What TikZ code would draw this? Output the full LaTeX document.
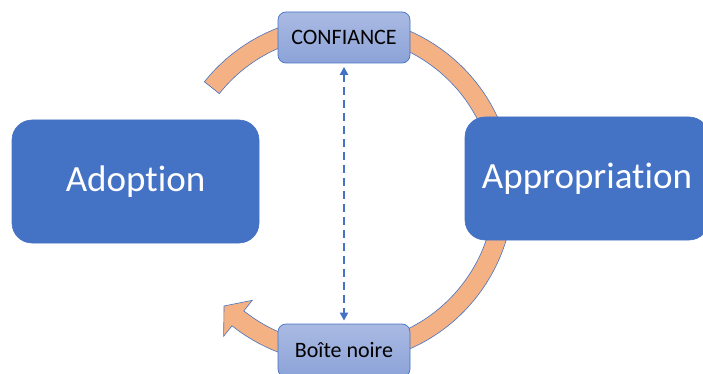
\documentclass[tikz,border=0pt]{standalone}
\usepackage{fontspec}
\setmainfont[Ligatures=NoCommon]{Carlito}
\usetikzlibrary{arrows.meta}
\definecolor{mainblue}{HTML}{4472C4}
\definecolor{bandorange}{HTML}{F4B183}
\definecolor{lighttop}{HTML}{AABAE2}
\definecolor{lightbot}{HTML}{8CA3D8}
\tikzset{
  bigbox/.style={fill=mainblue, draw=mainblue, line width=0.6pt, rounded corners=20pt,
    text=white, font=\fontsize{37}{41}\selectfont, inner sep=0pt, anchor=center},
  smallbox/.style={top color=lighttop, bottom color=lightbot, draw=mainblue, line width=0.7pt,
    rounded corners=8pt, text=black, font=\fontsize{22}{26}\selectfont, inner sep=0pt, anchor=center},
  band/.style={fill=bandorange, draw=mainblue, line width=0.6pt},
  dasharrow/.style={draw=mainblue, line width=2pt, dash pattern=on 8pt off 5pt,
    {Triangle[length=8pt,width=8pt]}-{Triangle[length=8pt,width=8pt]}}
}
\begin{document}
\begin{tikzpicture}[x=1pt,y=1pt]
\useasboundingbox (0,0) rectangle (703,-374);
\clip (0,0) rectangle (703,-374);
% circular arrow band
\begin{scope}[shift={(340pt,-190pt)}]
\path[band] (141.4:173.5pt) arc[start angle=141.4, end angle=-128.5, radius=173.5pt]
  -- (-128.5:187pt) -- (-135:164pt) -- (-128.5:141pt) -- (-128.5:154.5pt)
  arc[start angle=-128.5, end angle=141.4, radius=154.5pt] -- cycle;
\end{scope}
% boxes
\node[bigbox, minimum width=247pt, minimum height=123pt] (adoption) at (135.5,-181.5) {Adoption};
\node[bigbox, minimum width=244pt, minimum height=123pt] (approp) at (587,-178.5) {Appropriation};
\node[smallbox, minimum width=132pt, minimum height=51pt] (conf) at (344,-37.5) {CONFIANCE};
\node[smallbox, minimum width=132pt, minimum height=53pt] (boite) at (344,-350.5) {Boîte noire};
% dashed double arrow
\draw[dasharrow, shorten <=3.5pt, shorten >=3pt] (conf.south) -- (boite.north);
\end{tikzpicture}
\end{document}
